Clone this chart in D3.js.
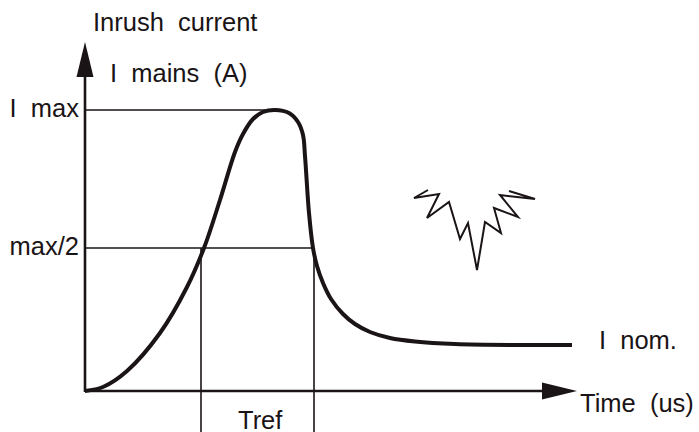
<!DOCTYPE html>
<html lang="en">
<head>
<meta charset="UTF-8">
<title>Inrush current</title>
<script src="https://d3js.org/d3.v7.min.js"></script>
<style>
    body { margin: 0; background: #fff; }
    svg { display: block; }
    text { font-family: "Liberation Sans", Arial, sans-serif; font-size: 25.5px; fill: #1a1416; white-space: pre; }
</style>
</head>
<body>
<script>
// values, time in arbitrary units, current with I max = 281
const curveTime = [0, 18, 42, 75, 102, 119, 135, 150, 158, 168, 178, 190, 204, 213, 218, 220, 224, 228, 232, 238, 246, 258, 270, 285, 305, 330, 370, 435, 487];
const curveCurrent = [0, 4, 20, 58, 104, 143, 191, 239, 257, 272, 279, 281, 278, 269, 256, 235, 178, 143, 125, 108, 92, 77, 67, 59, 53, 49.5, 47, 46, 46];

const levelNames = ["I  max", "max/2"];
const levelValues = [281, 143];
const levelEnds = [190, 229];

const trefTimes = [116, 229];

const sparkTime = [343, 329, 354, 342, 364, 375, 383, 392, 400, 416, 409, 433, 415, 450, 424];
const sparkCurrent = [201, 193, 197, 173, 189, 152, 168, 121, 169, 158, 183, 174, 196, 192, 200];

const width = 699, height = 432;

const x = d3.scaleLinear().domain([0, 490]).range([85, 575]);
const y = d3.scaleLinear().domain([0, 281]).range([391, 110]);

const svg = d3.select("body").append("svg")
    .attr("width", width)
    .attr("height", height);

const ink = "#1a1416";

// guide lines
levelValues.forEach((v, i) => {
    svg.append("line")
        .attr("x1", x(0)).attr("x2", x(levelEnds[i]))
        .attr("y1", y(v)).attr("y2", y(v))
        .attr("stroke", ink).attr("stroke-width", 1.6);
    svg.append("text")
        .attr("x", 79).attr("y", y(v))
        .attr("dy", "0.28em")
        .attr("text-anchor", "end")
        .text(levelNames[i]);
});

trefTimes.forEach(t => {
    svg.append("line")
        .attr("x1", x(t)).attr("x2", x(t))
        .attr("y1", y(143)).attr("y2", height)
        .attr("stroke", ink).attr("stroke-width", 1.6);
});

// axes
svg.append("line")
    .attr("x1", x(0)).attr("x2", x(0))
    .attr("y1", y(0) + 1).attr("y2", 70)
    .attr("stroke", ink).attr("stroke-width", 2.6);
svg.append("line")
    .attr("x1", x(0)).attr("x2", 545)
    .attr("y1", y(0)).attr("y2", y(0))
    .attr("stroke", ink).attr("stroke-width", 2.6);
svg.append("path")
    .attr("d", "M85,42L93.5,77H76.5Z")
    .attr("fill", ink);
svg.append("path")
    .attr("d", "M577,391L542,382.5V399.5Z")
    .attr("fill", ink);

// inrush curve
const line = d3.line()
    .x((d, i) => x(curveTime[i]))
    .y((d, i) => y(curveCurrent[i]))
    .curve(d3.curveCatmullRom.alpha(0.5));

svg.append("path")
    .attr("d", line(curveTime))
    .attr("fill", "none")
    .attr("stroke", ink)
    .attr("stroke-width", 4);

// spark symbol
const sparkLine = d3.line()
    .x((d, i) => x(sparkTime[i]))
    .y((d, i) => y(sparkCurrent[i]));

svg.append("path")
    .attr("d", sparkLine(sparkTime))
    .attr("fill", "none")
    .attr("stroke", ink)
    .attr("stroke-width", 2)
    .attr("stroke-linejoin", "miter");

// labels
const labels = [
    ["Inrush  current", 93, 31],
    ["I  mains  (A)", 110, 82],
    ["I  nom.", 599, 349],
    ["Time  (us)", 580, 412],
    ["Tref", 238, 429]
];
labels.forEach(d => {
    svg.append("text").attr("x", d[1]).attr("y", d[2]).text(d[0]);
});
</script>
</body>
</html>
